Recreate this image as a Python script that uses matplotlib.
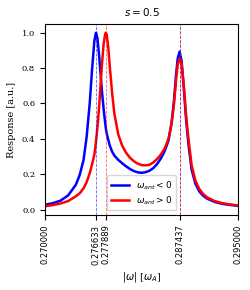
import matplotlib
matplotlib.use("Agg")
import matplotlib.pyplot as plt

# frequency grid |omega| in units of omega_A
omega = [0.2700, 0.2710, 0.2720, 0.2730, 0.2740, 0.2745, 0.2750, 0.2754,
         0.2758, 0.2761, 0.2764, 0.2766, 0.27663, 0.2768, 0.2770, 0.2772,
         0.2774, 0.2776, 0.2778, 0.27789, 0.2780, 0.2782, 0.2784, 0.2787,
         0.2790, 0.2795, 0.2800, 0.2805, 0.2810, 0.2815, 0.2820, 0.2825,
         0.2830, 0.2835, 0.2840, 0.2845, 0.2850, 0.2855, 0.2860, 0.2864,
         0.2867, 0.2870, 0.2872, 0.28744, 0.2877, 0.2880, 0.2883, 0.2886,
         0.2890, 0.2895, 0.2900, 0.2905, 0.2910, 0.2920, 0.2930, 0.2940,
         0.2950]

# response for omega_ant < 0 (blue)
resp_neg = [0.027, 0.036, 0.050, 0.080, 0.140, 0.195, 0.280, 0.410,
            0.600, 0.790, 0.953, 0.998, 1.000, 0.968, 0.880, 0.770,
            0.660, 0.570, 0.490, 0.460, 0.430, 0.395, 0.362, 0.328,
            0.305, 0.281, 0.262, 0.245, 0.230, 0.218, 0.211, 0.208,
            0.211, 0.219, 0.233, 0.256, 0.288, 0.330, 0.390, 0.490,
            0.610, 0.770, 0.855, 0.893, 0.840, 0.680, 0.500, 0.365,
            0.225, 0.145, 0.102, 0.078, 0.062, 0.043, 0.032, 0.026,
            0.021]

# response for omega_ant > 0 (red)
resp_pos = [0.019, 0.025, 0.034, 0.048, 0.075, 0.092, 0.120, 0.155,
            0.205, 0.255, 0.310, 0.380, 0.392, 0.465, 0.570, 0.700,
            0.830, 0.935, 0.993, 1.000, 0.989, 0.920, 0.810, 0.660,
            0.540, 0.425, 0.362, 0.322, 0.294, 0.274, 0.260, 0.252,
            0.250, 0.253, 0.265, 0.285, 0.310, 0.345, 0.400, 0.485,
            0.590, 0.740, 0.820, 0.855, 0.825, 0.695, 0.525, 0.395,
            0.250, 0.162, 0.116, 0.088, 0.069, 0.048, 0.036, 0.029,
            0.023]

peaks_neg = [0.276633, 0.287437]
peaks_pos = [0.277889, 0.287437]
xticks = [0.270000, 0.276633, 0.277889, 0.287437, 0.295000]
s_value = 0.5

plt.rcParams["font.family"] = "serif"
plt.rcParams["font.size"] = 6

fig, ax = plt.subplots(figsize=(2.51, 2.90), dpi=100)
fig.subplots_adjust(left=0.179, right=0.948, top=0.917, bottom=0.259)

ax.plot(omega, resp_neg, color="blue", lw=1.8, label=r"$\omega_{ant} < 0$")
ax.plot(omega, resp_pos, color="red", lw=1.8, label=r"$\omega_{ant} > 0$")

for w in peaks_neg:
    ax.axvline(w, color="blue", ls="--", lw=0.6, alpha=0.6)
for w in peaks_pos:
    ax.axvline(w, color="red", ls="--", lw=0.6, alpha=0.6)

ax.set_xlim(xticks[0], xticks[-1])
ax.set_xticks(xticks)
ax.set_xticklabels(["%.6f" % t for t in xticks], rotation=90,
                   family="DejaVu Sans")
ax.set_yticks([0.0, 0.2, 0.4, 0.6, 0.8, 1.0])

ax.set_xlabel(r"$|\omega|$ [$\omega_A$]", fontsize=7)
ax.set_ylabel("Response [a.u.]", fontsize=7)
ax.set_title(r"$s = %s$" % s_value, fontsize=7.5)
ax.legend(loc="lower center", fontsize=6.5, labelspacing=0.3,
          handlelength=2.0, borderpad=0.4)

fig.savefig("out.png", dpi=100)
